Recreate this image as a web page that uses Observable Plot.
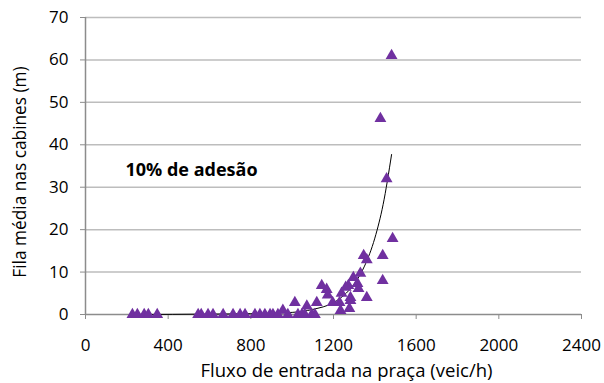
<!DOCTYPE html>
<html>
<head>
<meta charset="utf-8">
<script src="https://cdn.jsdelivr.net/npm/d3@7"></script>
<script src="https://cdn.jsdelivr.net/npm/@observablehq/plot@0.6"></script>
<style>
  html, body { margin: 0; padding: 0; background: #fff; }
  #chart { width: 604px; height: 383px; }
</style>
</head>
<body>
<div id="chart"></div>
<script>
// Observed points: inflow (veic/h) and mean queue (m)
const fluxo = [227, 251, 284, 304, 347, 545, 560, 593, 617, 666, 714, 748, 772,
  820, 844, 868, 893, 907, 931, 955, 979, 1013, 1028, 1047, 1061, 1071, 1095, 1110, 1119,
  1143, 1167, 1172, 1196, 1229, 1234, 1239, 1259, 1272, 1277, 1282, 1282, 1296, 1316,
  1321, 1330, 1346, 1361, 1361, 1438, 1438, 1486, 1457, 1427, 1481];
const fila = [0, 0, 0, 0, 0, 0, 0, 0, 0, 0, 0, 0, 0,
  0, 0, 0, 0, 0, 0, 1.0, 0, 2.8, 0, 0, 0, 2.0, 0, 0, 2.8,
  6.8, 5.9, 4.6, 2.8, 2.8, 0.9, 5.0, 6.4, 6.8, 1.4, 4.0, 3.3, 8.7, 7.3,
  6.1, 9.7, 13.9, 12.9, 4.0, 13.9, 8.0, 17.9, 32, 46.2, 61];

// Trendline
const trendX = [240, 600, 800, 1000, 1100, 1200, 1250, 1300, 1350, 1400, 1440, 1481];
const trendY = [0.0, 0.1, 0.2, 0.5, 1.2, 2.8, 4.5, 7.2, 11.4, 18.0, 25.9, 37.7];

const xTicks = [0, 400, 800, 1200, 1600, 2000, 2400];
const yTicks = [0, 10, 20, 30, 40, 50, 60, 70];
const xTitle = ["Fluxo de entrada na praça (veic/h)"];
const yTitle = ["Fila média nas cabines (m)"];
const annotation = ["10% de adesão"];

const points = fluxo.map((x, i) => ({x, y: fila[i]}));
const trend = trendX.map((x, i) => ({x, y: trendY[i]}));

const font = "'Open Sans', sans-serif";

const chart = Plot.plot({
  width: 604,
  height: 383,
  marginLeft: 85,
  marginRight: 23,
  marginTop: 17,
  marginBottom: 69,
  style: {fontFamily: font, fontSize: "17px", color: "#000", background: "#fff"},
  x: {domain: [0, 2400]},
  y: {domain: [0, 70]},
  marks: [
    Plot.ruleY(yTicks.filter(d => d > 0), {stroke: "#bdbdbd", strokeWidth: 1.5}),
    Plot.ruleX([0], {stroke: "#8c8c8c", strokeWidth: 1.5}),
    Plot.ruleY([0], {stroke: "#8c8c8c", strokeWidth: 1.5}),
    Plot.axisX({ticks: xTicks, tickFormat: d => String(d), tickSize: 5, tickPadding: 19,
      stroke: "#8c8c8c", fontSize: 17, label: null}),
    Plot.axisY({ticks: yTicks, tickFormat: d => String(d), tickSize: 5, tickPadding: 12,
      stroke: "#8c8c8c", fontSize: 17, label: null}),
    Plot.text(xTitle, {frameAnchor: "bottom", dx: 13, dy: 57, textAnchor: "middle",
      lineAnchor: "middle", fontSize: 18.5, fill: "#000"}),
    Plot.text(yTitle, {frameAnchor: "left", dx: -65, dy: 6, rotate: -90, textAnchor: "middle",
      lineAnchor: "middle", fontSize: 17.3, fill: "#000"}),
    Plot.line(trend, {x: "x", y: "y", stroke: "#000", strokeWidth: 1, curve: "monotone-x"}),
    Plot.dot(points, {x: "x", y: "y", symbol: "triangle", r: 4.4, fill: "#7030a0", stroke: "none"}),
    Plot.text(annotation, {frameAnchor: "top-left", dx: 40, dy: 153, textAnchor: "start",
      lineAnchor: "middle", fontWeight: "bold", fontSize: 18, fill: "#000"})
  ]
});
document.getElementById("chart").appendChild(chart);
</script>
</body>
</html>
